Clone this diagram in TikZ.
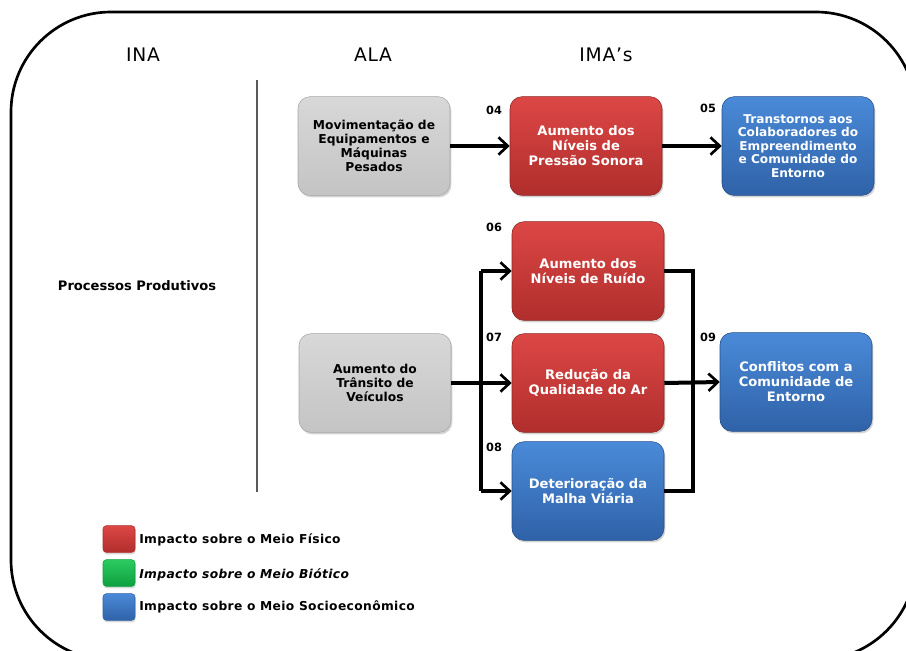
\documentclass[tikz,border=0pt]{standalone}
\usepackage{fontspec}
\setmainfont{DejaVu Sans}
\usetikzlibrary{arrows.meta,shadows}
\definecolor{redtop}{HTML}{DC4745}
\definecolor{redbot}{HTML}{B02E2C}
\definecolor{bluetop}{HTML}{4A8AD8}
\definecolor{bluebot}{HTML}{2F62A8}
\definecolor{graytop}{HTML}{D8D8D8}
\definecolor{graybot}{HTML}{C4C4C4}
\definecolor{greentop}{HTML}{2BCB5F}
\definecolor{greenbot}{HTML}{0FA040}
\tikzset{
  box/.style={rounded corners=9pt, minimum width=114pt, minimum height=74pt,
    align=center, font=\bfseries\fontsize{9.8}{11.3}\selectfont, inner sep=2pt,
    drop shadow={shadow xshift=1pt, shadow yshift=-1.5pt, opacity=0.35}},
  redbox/.style={box, top color=redtop, bottom color=redbot, draw=redbot!80!black, text=white},
  bluebox/.style={box, top color=bluetop, bottom color=bluebot, draw=bluebot!80!black, text=white},
  graybox/.style={box, top color=graytop, bottom color=graybot, draw=gray!70, text=black,
    font=\bfseries\fontsize{9.2}{10.4}\selectfont},
  num/.style={font=\bfseries\fontsize{8.5}{9}\selectfont, inner sep=0pt},
  head/.style={font=\fontsize{14}{16}\selectfont\addfontfeatures{LetterSpace=4}, inner sep=0pt},
  conn/.style={line width=3pt},
  arr/.style={conn, -{Straight Barb[length=7pt,width=13pt,line width=2pt]}},
  legsq/.style={rounded corners=2.5pt, minimum width=24pt, minimum height=20pt, inner sep=0pt,
    drop shadow={shadow xshift=0.5pt, shadow yshift=-1.5pt, opacity=0.3}},
  legtxt/.style={anchor=west, font=\bfseries\fontsize{9.2}{10}\selectfont\addfontfeatures{LetterSpace=3}, inner sep=0pt},
}
\begin{document}
\begin{tikzpicture}[x=0.75pt,y=-0.75pt]
\useasboundingbox (0,0) rectangle (906,650);
\begin{scope}
\clip (0,0) rectangle (906,650);
\draw[line width=2pt, rounded corners=75pt] (11,12) rectangle (916,660);
\end{scope}

% headers
\node[head] (ina) at (143,55) {INA};
\node[head] (ala) at (373,55) {ALA};
\node[head] (ima) at (606,55) {IMA’s};
\node[font=\bfseries\fontsize{9.8}{11}\selectfont, inner sep=0pt] (proc) at (137,286) {Processos Produtivos};
\coordinate (vtop) at (257,80);
\coordinate (vbot) at (257,492);
\draw[line width=0.8pt, gray!70!black] (vtop) -- (vbot);

% boxes
\node[graybox] (g1) at (374,146) {Movimentação de\\Equipamentos e\\Máquinas\\Pesados};
\node[redbox] (r04) at (586,146) {Aumento dos\\Níveis de\\Pressão Sonora};
\node[bluebox, font=\bfseries\fontsize{9.1}{10.2}\selectfont] (b05) at (798,146) {Transtornos aos\\Colaboradores do\\Empreendimento\\e Comunidade do\\Entorno};
\node[redbox] (r06) at (588,271) {Aumento dos\\Níveis de Ruído};
\node[redbox] (r07) at (588,383) {Redução da\\Qualidade do Ar};
\node[bluebox] (b08) at (588,491) {Deterioração da\\Malha Viária};
\node[graybox] (g2) at (375,383) {Aumento do\\Trânsito de\\Veículos};
\node[bluebox] (b09) at (796,382) {Conflitos com a\\Comunidade de\\Entorno};

% numbers
\node[num] (n04) at (494,110) {04};
\node[num] (n05) at (708,108) {05};
\node[num] (n06) at (494,227) {06};
\node[num] (n07) at (494,337) {07};
\node[num] (n08) at (494,447) {08};
\node[num] (n09) at (708,337) {09};

% connectors
\draw[arr] (g1.east) -- (r04.west);
\draw[arr] (r04.east) -- (b05.west);
\coordinate (jl) at (481,383);
\coordinate (jlt) at (481,271);
\coordinate (jlb) at (481,491);
\draw[conn] (g2.east) -- (jl);
\draw[conn] (jlt) -- (jlb);
\draw[arr] (jl) -- (r07.west);
\draw[arr] (jlt) -- (r06.west);
\draw[arr] (jlb) -- (b08.west);
\coordinate (jr) at (693,382);
\coordinate (jrt) at (693,271);
\coordinate (jrb) at (693,491);
\draw[conn] (r06.east) -- (jrt) -- (jrb) -- (b08.east);
\draw[arr] (r07.east) -- (b09.west);

% legend
\node[legsq, top color=redtop, bottom color=redbot, draw=redbot] (lr) at (119,539) {};
\node[legsq, top color=greentop, bottom color=greenbot, draw=greenbot] (lg) at (119,573) {};
\node[legsq, top color=bluetop, bottom color=bluebot, draw=bluebot] (lb) at (119,607) {};
\node[legtxt] (tr) at (139,540) {Impacto sobre o Meio Físico};
\node[legtxt, font=\bfseries\itshape\fontsize{9.2}{10}\selectfont\addfontfeatures{LetterSpace=3}] (tg) at (139,575) {Impacto sobre o Meio Biótico};
\node[legtxt] (tb) at (139,607) {Impacto sobre o Meio Socioeconômico};
\end{tikzpicture}
\end{document}
